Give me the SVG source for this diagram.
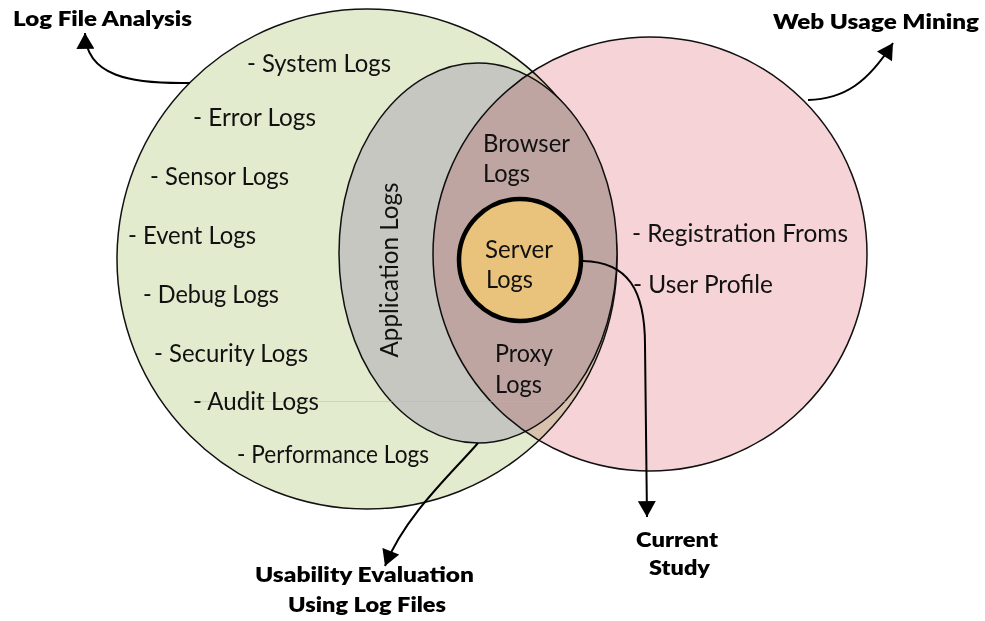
<svg xmlns="http://www.w3.org/2000/svg" width="985" height="621" viewBox="0 0 985 621">
  <defs>
    <style>
      .set { stroke: #111; stroke-width: 1.5; }
      .item { font-family: Lato, "Liberation Sans", sans-serif; font-size: 25px; fill: #111; }
      .title { font-family: Lato, "Liberation Sans", sans-serif; font-size: 21px; font-weight: 800; fill: #000; }
      .link { fill: none; stroke: #000; stroke-width: 2; }
    </style>
    <marker id="head" markerUnits="userSpaceOnUse" markerWidth="18" markerHeight="18" viewBox="0 0 16 17" refX="15" refY="8.5" orient="auto">
      <path d="M0,0 L15,8.5 L0,17 Z" fill="#000"/>
    </marker>
  </defs>

  <rect width="985" height="621" fill="#fff"/>

  <!-- Log file analysis set (green) -->
  <g id="log-file-analysis">
    <circle class="set" cx="367" cy="259" r="250" fill="#E2EBCD"/>
  </g>

  <!-- Application logs ellipse (grey) -->
  <g id="application-logs">
    <ellipse class="set" cx="478" cy="253" rx="139" ry="190" fill="#C6C7C0"/>
  </g>

  <!-- Web usage mining set (pink), multiplied over the sets below -->
  <g id="web-usage-mining">
    <circle class="set" cx="650" cy="254" r="217" fill="#F5D3D7" style="mix-blend-mode:multiply"/>
  </g>

  <!-- faint rule crossing the left sets -->
  <line x1="193" y1="401.5" x2="572" y2="401.5" stroke="#AFC086" stroke-width="1" stroke-opacity="0.45"/>

  <!-- Server logs core -->
  <g id="server-logs">
    <circle cx="520" cy="260" r="61" fill="#E9C37B" stroke="#000" stroke-width="4.5"/>
    <text class="item" x="485" y="258" textLength="68" lengthAdjust="spacingAndGlyphs">Server</text>
    <text class="item" x="486" y="288" textLength="47" lengthAdjust="spacingAndGlyphs">Logs</text>
  </g>

  <!-- Connectors -->
  <g id="connectors">
    <path class="link" d="M190,83 C130,84 86,76 85,33" marker-end="url(#head)"/>
    <path class="link" d="M808,100 C845,99 868,82 893,43" marker-end="url(#head)"/>
    <path class="link" d="M478,443 C455,470 405,515 385,566" marker-end="url(#head)"/>
    <path class="link" d="M583,261 C628,262 645,290 645,345 L647,517" marker-end="url(#head)"/>
  </g>

  <!-- Items of the log file analysis set -->
  <g id="log-file-items">
    <text class="item" x="247" y="72" textLength="144" lengthAdjust="spacingAndGlyphs">- System Logs</text>
    <text class="item" x="193" y="126" textLength="123" lengthAdjust="spacingAndGlyphs">- Error Logs</text>
    <text class="item" x="150" y="185" textLength="139" lengthAdjust="spacingAndGlyphs">- Sensor Logs</text>
    <text class="item" x="128" y="244" textLength="128" lengthAdjust="spacingAndGlyphs">- Event Logs</text>
    <text class="item" x="143" y="303" textLength="136" lengthAdjust="spacingAndGlyphs">- Debug Logs</text>
    <text class="item" x="154" y="362" textLength="154" lengthAdjust="spacingAndGlyphs">- Security Logs</text>
    <text class="item" x="193" y="410" textLength="126" lengthAdjust="spacingAndGlyphs">- Audit Logs</text>
    <text class="item" x="237" y="463" textLength="192" lengthAdjust="spacingAndGlyphs">- Performance Logs</text>
  </g>

  <!-- Labels inside the application / web usage overlap -->
  <g id="application-labels">
    <text class="item" transform="translate(398,270) rotate(-90)" text-anchor="middle" textLength="175" lengthAdjust="spacingAndGlyphs">Application Logs</text>
    <text class="item" x="483" y="152" textLength="87" lengthAdjust="spacingAndGlyphs">Browser</text>
    <text class="item" x="483" y="182" textLength="47" lengthAdjust="spacingAndGlyphs">Logs</text>
    <text class="item" x="495" y="362" textLength="58" lengthAdjust="spacingAndGlyphs">Proxy</text>
    <text class="item" x="495" y="393" textLength="47" lengthAdjust="spacingAndGlyphs">Logs</text>
  </g>

  <!-- Items of the web usage mining set -->
  <g id="web-usage-items">
    <text class="item" x="632" y="242" textLength="216" lengthAdjust="spacingAndGlyphs">- Registration Froms</text>
    <text class="item" x="633" y="293" textLength="140" lengthAdjust="spacingAndGlyphs">- User Profile</text>
  </g>

  <!-- Callout titles -->
  <g id="titles">
    <text class="title" x="13" y="26" textLength="179" lengthAdjust="spacingAndGlyphs">Log File Analysis</text>
    <text class="title" x="773" y="29" textLength="206" lengthAdjust="spacingAndGlyphs">Web Usage Mining</text>
    <text class="title" x="364.5" y="582" text-anchor="middle" textLength="219" lengthAdjust="spacingAndGlyphs">Usability Evaluation</text>
    <text class="title" x="367" y="612" text-anchor="middle" textLength="158" lengthAdjust="spacingAndGlyphs">Using Log Files</text>
    <text class="title" x="677" y="547" text-anchor="middle" textLength="82" lengthAdjust="spacingAndGlyphs">Current</text>
    <text class="title" x="679.5" y="575" text-anchor="middle" textLength="61" lengthAdjust="spacingAndGlyphs">Study</text>
  </g>
</svg>
